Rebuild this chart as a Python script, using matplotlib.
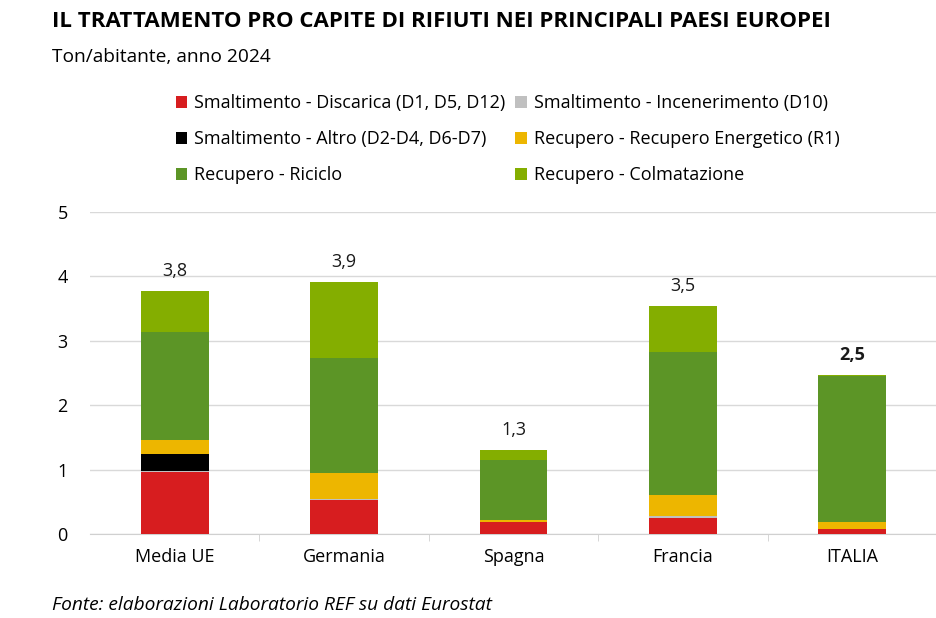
import numpy as np
import matplotlib.pyplot as plt

# Categories and stacked components (ton/abitante, 2024)
paesi = ['Media UE', 'Germania', 'Spagna', 'Francia', 'ITALIA']
discarica = [0.96, 0.53, 0.18, 0.24, 0.07]
incenerimento = [0.01, 0.02, 0.00, 0.04, 0.01]
altro = [0.27, 0.00, 0.00, 0.00, 0.00]
energetico = [0.22, 0.40, 0.04, 0.32, 0.10]
riciclo = [1.67, 1.78, 0.93, 2.23, 2.27]
colmatazione = [0.65, 1.19, 0.15, 0.71, 0.02]
totali = [3.8, 3.9, 1.3, 3.5, 2.5]

serie = [
    ('Smaltimento - Discarica (D1, D5, D12)', discarica, '#d71d1f'),
    ('Smaltimento - Incenerimento (D10)', incenerimento, '#c0c0c0'),
    ('Smaltimento - Altro (D2-D4, D6-D7)', altro, '#000000'),
    ('Recupero - Recupero Energetico (R1)', energetico, '#edb600'),
    ('Recupero - Riciclo', riciclo, '#5c9526'),
    ('Recupero - Colmatazione', colmatazione, '#84ae00'),
]

plt.rcParams['font.family'] = ['Open Sans', 'DejaVu Sans']

fig = plt.figure(figsize=(9.37, 6.18), dpi=100)
ax = fig.add_axes([0.096, 0.136, 0.904, 0.521])

x = np.arange(len(paesi))
bottom = np.zeros(len(paesi))
handles = []
for nome, valori, colore in serie:
    b = ax.bar(x, valori, width=0.4, bottom=bottom, color=colore, label=nome, zorder=3)
    handles.append(b)
    bottom += np.array(valori)

# labels with totals above bars
for i, tot in enumerate(totali):
    ax.text(x[i], bottom[i] + 0.17, f'{tot:.1f}'.replace('.', ','),
            ha='center', va='bottom', fontsize=13,
            fontweight='bold' if paesi[i] == 'ITALIA' else 'normal', color='#1a1a1a')

ax.set_xlim(-0.5, len(paesi) - 0.5)
ax.set_ylim(0, 5)
ax.set_yticks(range(6))
ax.set_yticklabels([str(v) for v in range(6)], fontsize=13)
ax.set_xticks(x)
ax.set_xticklabels(paesi, fontsize=13)
ax.set_xticks(np.arange(0.5, len(paesi) - 1, 1), minor=True)
ax.tick_params(axis='x', which='major', length=0, pad=10)
ax.tick_params(axis='x', which='minor', length=5, color='#d0d0d0')
ax.tick_params(axis='y', length=0, pad=16)
ax.grid(axis='y', color='#d9d9d9', linewidth=1, zorder=0)
for s in ['top', 'right', 'left']:
    ax.spines[s].set_visible(False)
ax.spines['bottom'].set_color('#d0d0d0')

# legend in row order (two columns)
ordine = [0, 2, 4, 1, 3, 5]
fig.legend([handles[i] for i in ordine], [serie[i][0] for i in ordine],
           ncol=2, loc='upper left', bbox_to_anchor=(0.17, 0.874),
           frameon=False, fontsize=13, handlelength=0.65, handleheight=0.65,
           handletextpad=0.4, columnspacing=0.5, labelspacing=1.0)

fig.text(0.055, 0.966, 'IL TRATTAMENTO PRO CAPITE DI RIFIUTI NEI PRINCIPALI PAESI EUROPEI',
         fontsize=16, fontweight='bold', va='center', ha='left')
fig.text(0.055, 0.907, 'Ton/abitante, anno 2024', fontsize=13.8, va='center', ha='left')
fig.text(0.055, 0.021, 'Fonte: elaborazioni Laboratorio REF su dati Eurostat',
         fontsize=13.8, style='italic', va='center', ha='left')

plt.savefig('out.png', dpi=100)
